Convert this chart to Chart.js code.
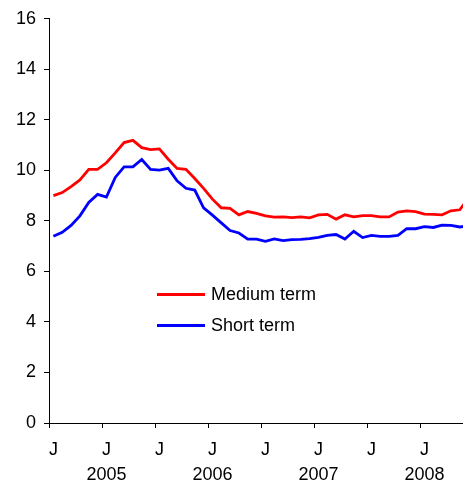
<!DOCTYPE html>
<html lang="en">

<head>
    <meta charset="UTF-8">
    <title>Medium and short term</title>
    <script src="https://cdn.jsdelivr.net/npm/chart.js"></script>
    <style>
        body {
            margin: 0;
            overflow: hidden;
            background: #fff;
            font-family: "Liberation Sans", Arial, sans-serif;
        }

        .wrap {
            position: relative;
            width: 480px;
            height: 485px;
        }

        .legend-row {
            position: absolute;
            left: 157px;
            height: 22px;
            display: flex;
            align-items: center;
            font-size: 18px;
            color: #000;
            white-space: nowrap;
        }

        .legend-row span.swatch {
            display: inline-block;
            width: 48px;
            height: 3px;
            margin-right: 6px;
        }
    </style>
</head>

<body>
    <div class="wrap">
        <canvas id="chart"></canvas>
        <div id="legend"></div>
    </div>

    <script>
        const years = ['2005', '2006', '2007', '2008'];
        const monthInitials = ['J', 'F', 'M', 'A', 'M', 'J', 'J', 'A', 'S', 'O', 'N', 'D'];

        const mediumTerm = [
            9.00, 9.12, 9.36, 9.62, 10.04, 10.04, 10.30, 10.69, 11.10, 11.19, 10.90, 10.82,
            10.85, 10.44, 10.08, 10.04, 9.68, 9.29, 8.86, 8.52, 8.50, 8.24, 8.37, 8.30,
            8.20, 8.15, 8.16, 8.13, 8.16, 8.12, 8.24, 8.26, 8.07, 8.24, 8.16, 8.21,
            8.21, 8.16, 8.16, 8.35, 8.40, 8.37, 8.27, 8.26, 8.24, 8.40, 8.44, 8.90
        ];
        const shortTerm = [
            7.39, 7.55, 7.82, 8.20, 8.73, 9.05, 8.94, 9.72, 10.14, 10.14, 10.43, 10.04,
            10.01, 10.08, 9.59, 9.29, 9.22, 8.52, 8.23, 7.92, 7.62, 7.52, 7.28, 7.28,
            7.19, 7.29, 7.22, 7.26, 7.27, 7.30, 7.35, 7.43, 7.46, 7.28, 7.59, 7.34,
            7.43, 7.39, 7.39, 7.43, 7.69, 7.69, 7.77, 7.74, 7.83, 7.82, 7.76, 7.80
        ];
        const seriesNames = ['Medium term', 'Short term'];
        const seriesColors = ['#ff0000', '#0000ff'];

        // one category per month
        const labels = [];
        years.forEach(y => monthInitials.forEach((m, i) => labels.push(y + '-' + (i + 1))));

        const font = { family: '"Liberation Sans", Arial, sans-serif', size: 18 };

        const ctx = document.getElementById('chart').getContext('2d');
        window.chartInstance = new Chart(ctx, {
            type: 'line',
            data: {
                labels: labels,
                datasets: [{
                    label: seriesNames[0],
                    data: mediumTerm,
                    borderColor: seriesColors[0],
                    borderWidth: 2.8,
                    pointRadius: 0,
                    tension: 0,
                }, {
                    label: seriesNames[1],
                    data: shortTerm,
                    borderColor: seriesColors[1],
                    borderWidth: 2.8,
                    pointRadius: 0,
                    tension: 0,
                }],
            },
            options: {
                responsive: true,
                maintainAspectRatio: false,
                animation: false,
                layout: { padding: { top: 16, right: 7, left: 0, bottom: 0 } },
                plugins: {
                    legend: { display: false },
                    tooltip: { enabled: false },
                },
                scales: {
                    x: {
                        type: 'category',
                        offset: true,
                        afterFit: s => { s.height = 62; },
                        grid: {
                            offset: true,
                            drawOnChartArea: false,
                            drawTicks: true,
                            tickLength: 5,
                            color: c => (c.index % 6 === 0 ? '#000' : 'rgba(0,0,0,0)'),
                        },
                        border: { display: true, color: '#000', width: 1 },
                        ticks: {
                            autoSkip: false,
                            maxRotation: 0,
                            padding: 9,
                            color: '#000',
                            font: { ...font, lineHeight: 1.4 },
                            callback: function (v, i) {
                                const m = i % 12;
                                if (m === 0) return 'J';
                                if (m === 6) return [monthInitials[m], years[Math.floor(i / 12)]];
                                return '';
                            },
                        },
                    },
                    y: {
                        min: 0,
                        max: 16,
                        afterFit: s => { s.width = 49; },
                        grid: {
                            drawOnChartArea: false,
                            drawTicks: true,
                            tickLength: 5,
                            color: '#000',
                        },
                        border: { display: true, color: '#000', width: 1 },
                        ticks: {
                            stepSize: 2,
                            padding: 8,
                            color: '#000',
                            font: font,
                        },
                    },
                },
            },
        });

        // legend placed inside the plot like the original
        const legendTops = [283, 314];
        document.getElementById('legend').innerHTML = seriesNames.map((n, i) =>
            `<div class="legend-row" style="top:${legendTops[i]}px"><span class="swatch" style="background:${seriesColors[i]}"></span>${n}</div>`
        ).join('');
    </script>
</body>

</html>
